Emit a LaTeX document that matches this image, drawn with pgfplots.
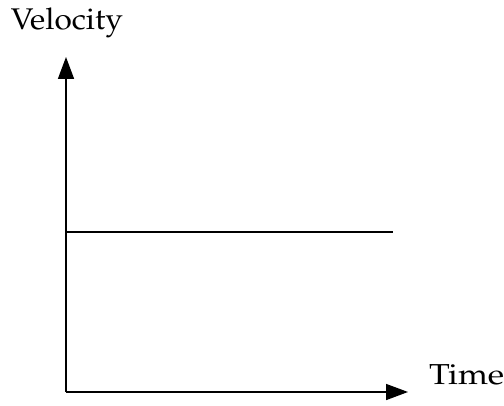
\documentclass[border=0pt]{standalone}
\usepackage[T1]{fontenc}
\usepackage{mathpazo}
\usepackage{graphicx}
\usepackage{pgfplots}
\pgfplotsset{compat=1.18}
\usetikzlibrary{arrows.meta}
\begin{document}
\begin{tikzpicture}[x=1bp,y=1bp]
\path[use as bounding box] (0,0) rectangle (504,405);
\begin{axis}[
  at={(66bp,13bp)}, anchor=south west,
  scale only axis, width=342bp, height=335bp,
  axis lines=left,
  axis line style={line width=1.6bp, -{Triangle[length=22bp,width=16bp]}},
  xmin=0, xmax=100, ymin=0, ymax=100,
  xtick=\empty, ytick=\empty,
  clip=false,
]
\addplot[black, line width=1.7bp] coordinates {(0,47.7) (95.6,47.7)};
\end{axis}
\node[anchor=base west, inner sep=0pt, font=\fontsize{30}{34}\selectfont] at (10.7,375.5) {\resizebox{112bp}{\height}{Velocity}};
\node[anchor=base west, inner sep=0pt, font=\fontsize{29}{32}\selectfont] at (429,20.7) {\resizebox{75bp}{\height}{Time}};
\end{tikzpicture}
\end{document}
